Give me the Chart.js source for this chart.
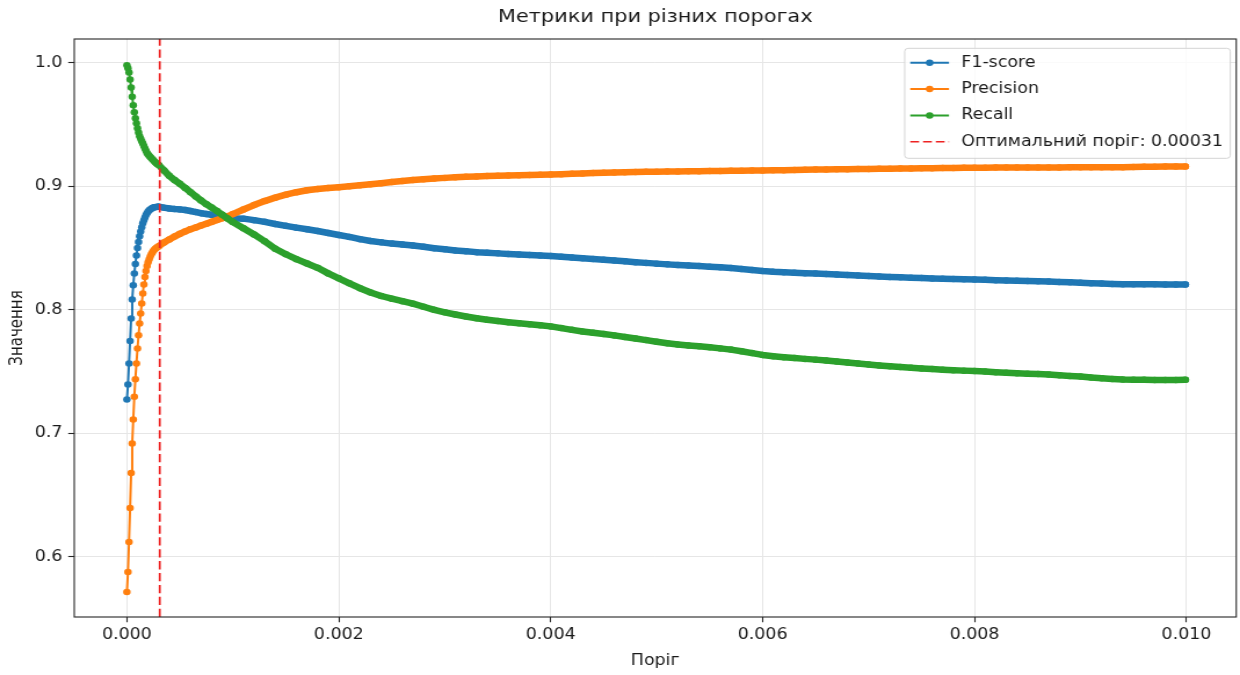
<!DOCTYPE html>
<html><head><meta charset="utf-8">
<script src="https://cdn.jsdelivr.net/npm/chart.js@4.4.1/dist/chart.umd.min.js"></script>
<style>
html,body{margin:0;padding:0;background:#fff;overflow:hidden;width:1240px;height:675px;}
#wrap{position:absolute;left:0;top:0;width:1069px;height:675px;transform:scaleX(1.15996);transform-origin:0 0;}
</style></head><body>
<div id="wrap"><canvas id="c" width="1069" height="675"></canvas></div>
<script>
const thresholds = [
  0,0.00001,0.00002,0.00003,0.00004,0.00005,0.00006,0.00007,0.00008,0.00009,0.0001,
  0.00011,0.00012,0.00013,0.00014,0.00015,0.00016,0.00017,0.00018,0.00019,0.0002,
  0.00021,0.00022,0.00023,0.00024,0.00025,0.00026,0.00027,0.00028,0.00029,0.0003,
  0.00035,0.0004,0.00045,0.0005,0.00055,0.0006,0.00065,0.0007,0.00075,0.0008,0.00085,0.0009,0.00095,0.001,
  0.0011,0.0012,0.0013,0.0014,0.0015,0.0016,0.0017,0.0018,0.0019,0.0020,
  0.0021,0.0022,0.0023,0.0024,0.0025,0.0026,0.0027,0.0028,0.0029,0.0030,
  0.0031,0.0032,0.0033,0.0034,0.0035,0.0036,0.0037,0.0038,0.0039,0.0040,
  0.0041,0.0042,0.0043,0.0044,0.0045,0.0046,0.0047,0.0048,0.0049,0.0050,
  0.0051,0.0052,0.0053,0.0054,0.0055,0.0056,0.0057,0.0058,0.0059,0.0060,
  0.0061,0.0062,0.0063,0.0064,0.0065,0.0066,0.0067,0.0068,0.0069,0.0070,
  0.0071,0.0072,0.0073,0.0074,0.0075,0.0076,0.0077,0.0078,0.0079,0.0080,
  0.0081,0.0082,0.0083,0.0084,0.0085,0.0086,0.0087,0.0088,0.0089,0.0090,
  0.0091,0.0092,0.0093,0.0094,0.0095,0.0096,0.0097,0.0098,0.0099,
  0.00999
];
const f1Values = [
  0.7275,0.7396,0.7566,0.7747,0.7930,0.8084,0.8200,0.8295,0.8370,0.8440,0.8500,
  0.8550,0.8595,0.8635,0.8668,0.8700,0.8725,0.8748,0.8767,0.8782,0.8795,
  0.8805,0.8813,0.8819,0.8824,0.8828,0.8830,0.8832,0.8833,0.8834,0.8835,
  0.8827,0.8820,0.8816,0.8813,0.8808,0.8800,0.8791,0.8782,0.8776,0.8770,0.8763,0.8756,0.8748,0.8742,
  0.8738,0.8726,0.8712,0.8695,0.8680,0.8665,0.8652,0.8638,0.8622,0.8606,
  0.8590,0.8572,0.8557,0.8546,0.8536,0.8529,0.8520,0.8510,0.8498,0.8490,
  0.8481,0.8474,0.8467,0.8462,0.8457,0.8452,0.8448,0.8444,0.8440,0.8436,
  0.8430,0.8424,0.8418,0.8412,0.8406,0.8400,0.8393,0.8386,0.8380,0.8374,
  0.8368,0.8363,0.8358,0.8354,0.8349,0.8344,0.8338,0.8331,0.8323,0.8315,
  0.8309,0.8305,0.8301,0.8297,0.8294,0.8290,0.8286,0.8282,0.8278,0.8274,
  0.8270,0.8266,0.8263,0.8260,0.8257,0.8254,0.8252,0.8250,0.8248,0.8246,
  0.8243,0.8240,0.8237,0.8235,0.8233,0.8231,0.8229,0.8226,0.8223,0.8220,
  0.8216,0.8213,0.8210,0.8208,0.8207,0.8207,0.8207,0.8206,0.8206,
  0.8205
];
const precisionValues = [
  0.5717,0.5879,0.6122,0.6397,0.6680,0.6918,0.7113,0.7296,0.7439,0.7566,0.7687,
  0.7795,0.7890,0.7970,0.8052,0.8133,0.8205,0.8265,0.8315,0.8355,0.8385,
  0.8410,0.8432,0.8450,0.8465,0.8478,0.8488,0.8496,0.8503,0.8509,0.8515,
  0.8545,0.8570,0.8593,0.8615,0.8635,0.8652,0.8667,0.8682,0.8697,0.8712,0.8727,0.8742,0.8757,0.8775,
  0.8812,0.8848,0.8880,0.8908,0.8932,0.8952,0.8968,0.8978,0.8986,0.8993,
  0.9000,0.9008,0.9016,0.9025,0.9034,0.9042,0.9050,0.9057,0.9063,0.9068,
  0.9073,0.9077,0.9080,0.9083,0.9086,0.9088,0.9090,0.9092,0.9094,0.9096,
  0.9098,0.9101,0.9104,0.9107,0.9110,0.9112,0.9114,0.9116,0.9117,0.9118,
  0.9119,0.9120,0.9121,0.9122,0.9123,0.9124,0.9125,0.9126,0.9127,0.9128,
  0.9129,0.9130,0.9131,0.9133,0.9135,0.9136,0.9137,0.9138,0.9139,0.9140,
  0.9141,0.9142,0.9143,0.9144,0.9145,0.9146,0.9147,0.9148,0.9149,0.9150,
  0.9150,0.9151,0.9151,0.9152,0.9152,0.9153,0.9153,0.9153,0.9154,0.9154,
  0.9154,0.9155,0.9155,0.9155,0.9156,0.9158,0.9159,0.9160,0.9160,
  0.9160
];
const recallValues = [
  0.9980,0.9955,0.9920,0.9865,0.9800,0.9725,0.9655,0.9600,0.9550,0.9510,0.9470,
  0.9435,0.9405,0.9385,0.9365,0.9347,0.9325,0.9305,0.9287,0.9270,0.9258,
  0.9247,0.9237,0.9228,0.9219,0.9210,0.9201,0.9193,0.9185,0.9178,0.9172,
  0.9128,0.9085,0.9050,0.9020,0.8987,0.8952,0.8918,0.8885,0.8855,0.8828,0.8800,0.8770,0.8740,0.8710,
  0.8660,0.8610,0.8555,0.8495,0.8450,0.8410,0.8375,0.8340,0.8295,0.8255,
  0.8215,0.8175,0.8140,0.8112,0.8090,0.8070,0.8050,0.8025,0.8000,0.7980,
  0.7962,0.7946,0.7932,0.7920,0.7910,0.7900,0.7892,0.7884,0.7875,0.7866,
  0.7852,0.7838,0.7825,0.7815,0.7805,0.7793,0.7780,0.7768,0.7755,0.7742,
  0.7730,0.7720,0.7712,0.7705,0.7697,0.7688,0.7678,0.7665,0.7650,0.7635,
  0.7625,0.7617,0.7610,0.7603,0.7597,0.7590,0.7582,0.7573,0.7565,0.7558,
  0.7550,0.7543,0.7537,0.7531,0.7526,0.7521,0.7516,0.7512,0.7508,0.7505,
  0.7500,0.7495,0.7490,0.7486,0.7483,0.7480,0.7476,0.7470,0.7465,0.7460,
  0.7452,0.7446,0.7441,0.7437,0.7435,0.7434,0.7433,0.7433,0.7433,
  0.7434
];
const optimalThreshold = 0.00031;
const seriesNames = ['F1-score', 'Precision', 'Recall'];
const thresholdLabel = 'Оптимальний поріг: 0.00031';
const titleText = 'Метрики при різних порогах';
const xTitleText = 'Поріг';
const yTitleText = 'Значення';
const xTickValues = [0, 0.002, 0.004, 0.006, 0.008, 0.010];
const xTickLabels = ['0.000', '0.002', '0.004', '0.006', '0.008', '0.010'];
const yTickValues = [0.6, 0.7, 0.8, 0.9, 1.0];
const yTickLabels = ['0.6', '0.7', '0.8', '0.9', '1.0'];
const xMin = -0.000497, xMax = 0.01047;
const yMin = 0.5514, yMax = 1.0192;

const COLORS = ['#1f77b4', '#ff7f0e', '#2ca02c'];
const RED = '#ee2222';
const TEXT = '#1a1a1a';
Chart.defaults.font.family = "'DejaVu Sans', sans-serif";

function metricDataset(name, values, color, order) {
  return {
    label: name, order,
    data: thresholds.map((t, i) => ({x: t, y: values[i]})),
    borderColor: color, backgroundColor: color,
    pointBackgroundColor: color, pointBorderColor: color, pointBorderWidth: 0,
    pointRadius: 3.25, pointHoverRadius: 3.25,
    borderWidth: 2, borderJoinStyle: 'round', borderCapStyle: 'round',
    segment: { borderWidth: ctx => (ctx.p0.parsed.x >= 0.0003 - 1e-9 ? 6.5 : 2) },
    tension: 0, fill: false
  };
}

const legendPlugin = {
  id: 'boxLegend',
  afterDraw(chart) {
    const {ctx, chartArea: a} = chart;
    ctx.save();
    // spines
    ctx.strokeStyle = '#262626'; ctx.lineWidth = 1.1;
    ctx.strokeRect(a.left, a.top, a.right - a.left, a.bottom - a.top);
    // legend box
    const bx = a.right - 285.8, by = a.top + 9.3, bw = 280.7, bh = 110;
    ctx.beginPath();
    ctx.roundRect(bx, by, bw, bh, 3);
    ctx.fillStyle = 'rgba(255,255,255,0.8)'; ctx.fill();
    ctx.strokeStyle = '#d4d4d4'; ctx.lineWidth = 1; ctx.stroke();
    chart.data.datasets.forEach((ds, i) => {
      const y = by + 14.4 + i * 26.35;
      const isMetric = i < 3;
      ctx.strokeStyle = ds.borderColor;
      ctx.lineWidth = isMetric ? 2 : 1.7;
      ctx.setLineDash(isMetric ? [] : [7.6, 3.4]);
      ctx.beginPath(); ctx.moveTo(bx + 4.8, y); ctx.lineTo(bx + 38.2, y); ctx.stroke();
      ctx.setLineDash([]);
      if (isMetric) {
        ctx.fillStyle = ds.borderColor;
        ctx.beginPath(); ctx.arc(bx + 21.5, y, 3.25, 0, Math.PI * 2); ctx.fill();
      }
      ctx.fillStyle = TEXT; ctx.font = "15px 'DejaVu Sans'";
      ctx.textBaseline = 'middle'; ctx.textAlign = 'left';
      ctx.fillText(ds.label, bx + 48.8, y);
    });
    ctx.restore();
  }
};

new Chart(document.getElementById('c'), {
  type: 'line',
  data: {
    datasets: [
      metricDataset(seriesNames[0], f1Values, COLORS[0], 3),
      metricDataset(seriesNames[1], precisionValues, COLORS[1], 2),
      metricDataset(seriesNames[2], recallValues, COLORS[2], 1),
      {
        label: thresholdLabel, order: 0,
        data: [{x: optimalThreshold, y: yMin}, {x: optimalThreshold, y: yMax}],
        borderColor: RED, backgroundColor: RED, borderWidth: 1.7,
        borderDash: [8.3, 3.6], pointRadius: 0, pointHoverRadius: 0, fill: false
      }
    ]
  },
  options: {
    responsive: false, animation: false, devicePixelRatio: 1,
    layout: { padding: { left: 0, right: 3, top: 0, bottom: 0 } },
    plugins: {
      legend: { display: false },
      tooltip: { enabled: false },
      title: {
        display: true, text: titleText, fullSize: false, color: TEXT,
        font: { size: 18, weight: 'normal' }, padding: { top: 7, bottom: 10.4 }
      }
    },
    scales: {
      x: {
        type: 'linear', min: xMin, max: xMax,
        afterBuildTicks: s => { s.ticks = xTickValues.map(v => ({value: v})); },
        afterFit: s => { s.height = 58; },
        ticks: { callback: (v, i) => xTickLabels[i], font: { size: 15 }, color: TEXT, padding: 4, maxRotation: 0, autoSkip: false },
        grid: { color: '#e6e6e6', lineWidth: 1, tickLength: 5.25, tickColor: '#262626', tickWidth: 1.1 },
        border: { display: false },
        title: { display: true, text: xTitleText, font: { size: 15 }, color: TEXT, padding: { top: 0, bottom: 5 } }
      },
      y: {
        type: 'linear', min: yMin, max: yMax,
        afterBuildTicks: s => { s.ticks = yTickValues.map(v => ({value: v})); },
        afterFit: s => { s.width = 64; },
        ticks: { callback: (v, i) => yTickLabels[i], font: { size: 15 }, color: TEXT, padding: 5, autoSkip: false },
        grid: { color: '#e6e6e6', lineWidth: 1, tickLength: 5.2, tickColor: '#262626', tickWidth: 1.1 },
        border: { display: false },
        title: { display: true, text: yTitleText, font: { size: 15 }, color: TEXT, padding: { top: 6.5, bottom: 0 } }
      }
    }
  },
  plugins: [legendPlugin]
});
</script>
</body></html>
